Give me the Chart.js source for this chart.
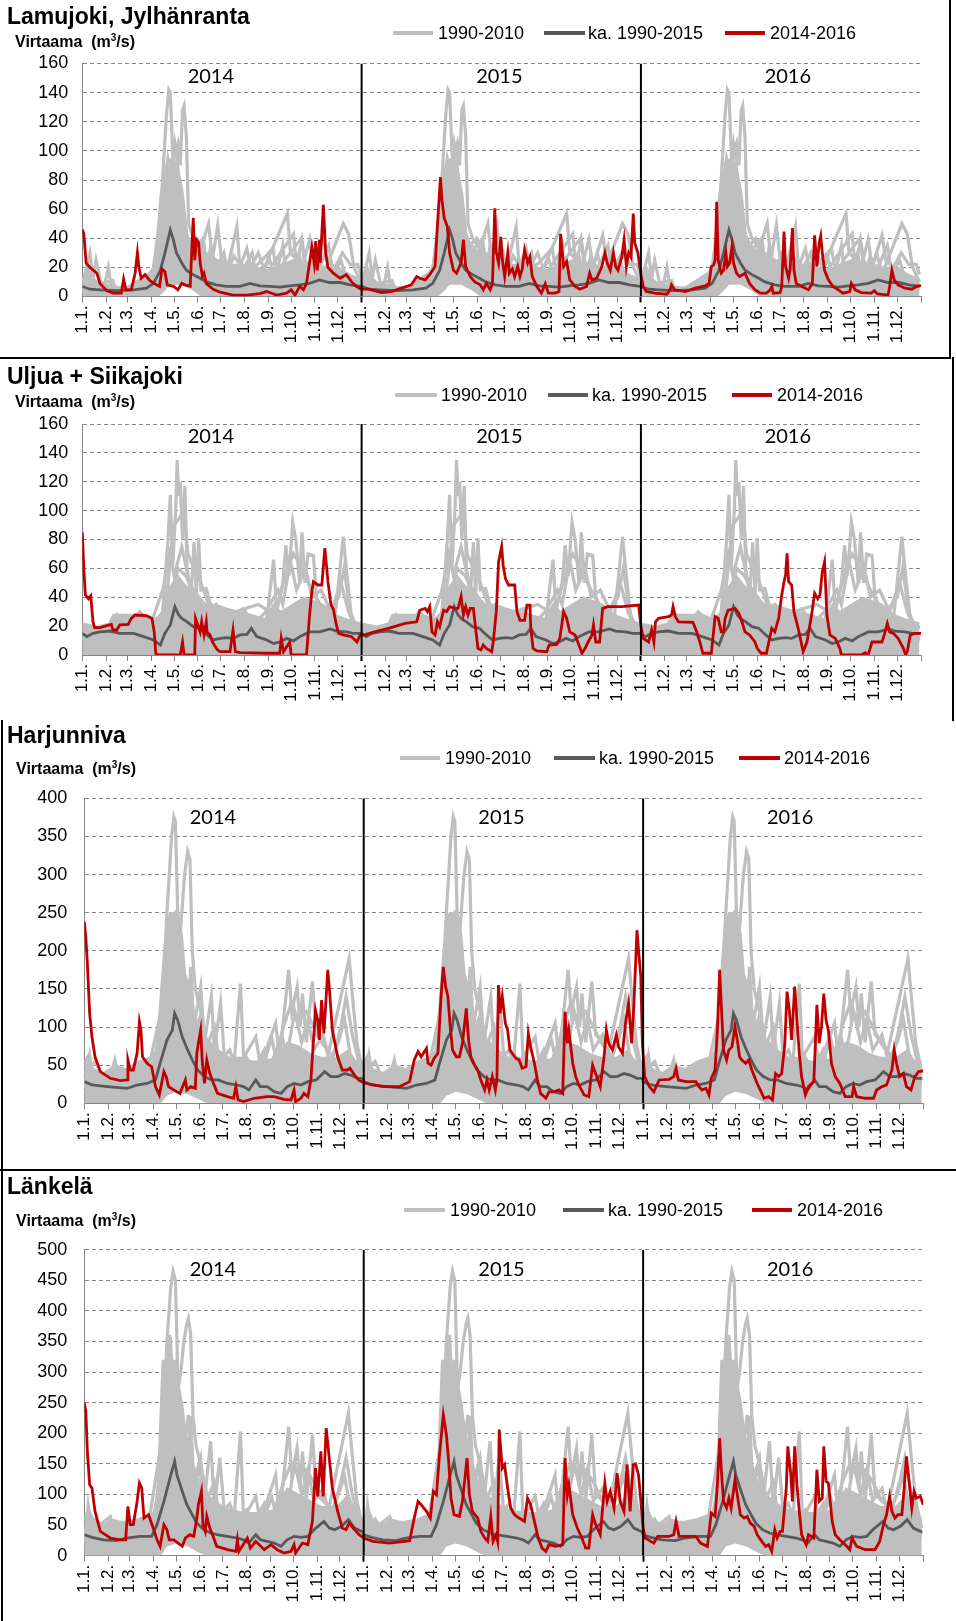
<!DOCTYPE html>
<html>
<head>
<meta charset="utf-8">
<script src="https://cdn.jsdelivr.net/npm/chart.js@4.4.0/dist/chart.umd.min.js"></script>
<style>
  body { margin: 0; background: #fff; width: 956px; height: 1621px; position: relative; overflow: hidden;
         font-family: "Liberation Sans", Arial, sans-serif; }
  canvas { position: absolute; left: 0; }
  .title { position: absolute; left: 7px; font-weight: bold; font-size: 23px; line-height: 23px; color: #000; white-space: nowrap; z-index: 2; }
  .unit { position: absolute; font-weight: bold; font-size: 16px; line-height: 16px; color: #000; white-space: nowrap; z-index: 2; }
  .unit sup { font-size: 10px; line-height: 0; }
  .rule { position: absolute; background: #000; z-index: 3; }
</style>
</head>
<body>
<canvas id="c1" width="956" height="359" style="top:0px"></canvas>
<canvas id="c2" width="956" height="361" style="top:359px"></canvas>
<canvas id="c3" width="956" height="450" style="top:720px"></canvas>
<canvas id="c4" width="956" height="451" style="top:1170px"></canvas>

<div class="title" style="top:5px">Lamujoki, Jylhänranta</div>
<div class="unit" style="left:15px;top:34px">Virtaama&nbsp; (m<sup>3</sup>/s)</div>
<div class="title" style="top:365px">Uljua + Siikajoki</div>
<div class="unit" style="left:15px;top:394px">Virtaama&nbsp; (m<sup>3</sup>/s)</div>
<div class="title" style="top:724px">Harjunniva</div>
<div class="unit" style="left:16px;top:761px">Virtaama&nbsp; (m<sup>3</sup>/s)</div>
<div class="title" style="top:1175px">Länkelä</div>
<div class="unit" style="left:16px;top:1213px">Virtaama&nbsp; (m<sup>3</sup>/s)</div>

<div class="rule" style="left:0;top:357px;width:951px;height:2px"></div>
<div class="rule" style="left:949px;top:0;width:2px;height:359px"></div>
<div class="rule" style="left:952px;top:357px;width:2px;height:364px"></div>
<div class="rule" style="left:1px;top:720px;width:2px;height:901px"></div>
<div class="rule" style="left:0;top:1169px;width:956px;height:2px"></div>

<script>
// days counted from 1.1.2014
const tickDays = [0,31,59,90,120,151,181,212,243,273,304,334,
                  365,396,424,455,485,516,546,577,608,638,669,699,
                  730,761,790,821,851,882,912,943,974,1004,1035,1065,1096];
const monthNames = ['1.1.','1.2.','1.3.','1.4.','1.5.','1.6.','1.7.','1.8.','1.9.','1.10.','1.11.','1.12.'];
const tickLabels = [...monthNames, ...monthNames, ...monthNames, ''];
const yearDays = [365, 730];
const yearLabels = ['2014', '2015', '2016'];
const yearLabelDays = [168, 545, 922];
const yearOffsets = [0, 365, 730];
const legendTexts = ['1990-2010', 'ka. 1990-2015', '2014-2016'];

// ---- Lamujoki, Jylhänranta ----
const lamuRed = [[0,46],[2,43],[5,23],[10,20],[19,16],[23,9],[32,4],[40,2.3],[51,2.3],[54,12],[57,4.6],[64,4.6],[69,16],[72,30],[74,20],[77,12.5],[82,15],[88,11],[97,8],[101,7],[104,19],[108,17],[111,8],[119,7],[125,4.6],[130,9],[134,8],[141,7],[145,54],[147,25],[149,39],[152,37],[154,23],[157,14],[159,16],[162,9],[171,5],[180,3],[197,1],[215,1],[232,2],[241,3.4],[254,1],[267,2.3],[273,4.6],[278,1],[284,7],[289,4.6],[293,9],[300,34],[303,23],[305,38],[307,18],[310,39],[311,23],[315,63],[318,30],[321,20],[328,16],[337,12.5],[345,15],[352,10],[358,7],[364,5],
  [374,5],[391,2.7],[404,3.4],[417,5.7],[430,8],[437,13.7],[441,12.5],[448,11.4],[454,15],[461,20.6],[464,48],[468,82],[470,66],[473,54],[477,48],[480,30],[485,18],[489,16],[495,23],[498,39],[501,20.6],[507,13.7],[513,10],[520,8],[524,4.6],[528,9],[533,4.6],[536,9],[539,60.6],[541,30],[544,23],[547,41],[549,25],[552,13.7],[556,30],[558,16],[562,19],[565,13.7],[569,20.6],[572,13.7],[575,19],[578,32],[582,23],[585,27],[588,13.7],[594,6.9],[600,2.3],[605,8.7],[609,2.3],[618,2.3],[623,3.4],[625,43],[629,20.6],[633,24],[637,11.4],[644,6.9],[650,5],[659,6.9],[663,16],[666,11.4],[672,12.5],[679,20.6],[683,30],[686,23],[690,18],[694,30],[697,20.6],[700,18],[705,27],[708,39],[711,20.6],[714,30],[717,27],[720,57],[722,36.6],[726,30],[730,15],
  [733,6.9],[737,3.4],[748,2.3],[764,1.6],[768,4.6],[770,8],[774,4.6],[788,3.4],[801,5.7],[814,7.3],[819,9],[822,20.6],[825,21.7],[827,25],[829,65],[831,25],[835,16],[838,18],[841,30],[843,20.6],[846,23],[849,34],[851,23],[855,16],[859,13.7],[866,16],[872,9],[879,4.6],[886,2.3],[894,2.3],[899,4.6],[901,6.9],[903,2.3],[912,2.7],[914,6.9],[917,44.6],[919,20.6],[923,12.5],[925,19],[928,47],[930,18],[933,9],[940,6.9],[949,4.6],[954,9],[957,42],[960,20.6],[963,36.6],[965,41.6],[967,30],[970,18],[975,11.4],[981,6.9],[988,4.6],[994,2.3],[1003,3.4],[1005,9],[1010,4.6],[1018,2.7],[1031,2.3],[1035,4],[1039,1.8],[1053,1],[1055,6.9],[1058,18],[1061,11.4],[1066,8],[1075,5.7],[1084,5],[1090,6.9],[1096,7.5]];
const lamuAvg = [[0,6.9],[10,5],[23,4.6],[45,4],[67,4.6],[84,5.7],[93,9],[102,18],[108,30],[115,45.7],[119,39],[123,30],[130,23],[136,18],[145,15],[154,12.5],[162,10],[175,8],[188,6.9],[206,6.9],[219,9],[232,7.3],[245,6.9],[258,6.4],[271,7.3],[284,8],[297,9],[310,11.4],[323,9.6],[337,9.6],[350,8],[364,6.9]];
const lamuGrayHigh = [[0,12],[8,20],[12,14],[20,10],[35,8],[50,6],[65,7],[80,10],[92,20],[98,45],[102,70],[106,78],[110,92],[118,95],[125,90],[132,70],[138,40],[145,35],[155,30],[170,25],[185,22],[200,22],[215,22],[230,20],[245,18],[260,22],[275,25],[290,24],[305,22],[320,20],[335,20],[350,15],[364,12]];
const lamuGrayLow = [[0,0],[100,0],[108,4],[115,8],[130,8],[145,4],[155,0],[364,0]];
const lamuGray1 = [[0,5],[20,4],[60,3],[90,10],[100,40],[106,90],[110,125],[113,142],[115,140],[118,100],[122,60],[130,30],[145,20],[165,15],[200,8],[250,6],[300,10],[364,5]];
const lamuGray2 = [[0,8],[10,30],[14,12],[18,25],[25,8],[60,5],[95,15],[110,60],[120,95],[125,105],[128,90],[131,128],[133,131],[136,110],[139,50],[145,40],[152,35],[160,25],[175,15],[200,12],[230,10],[268,57],[272,30],[290,20],[320,15],[364,8]];
const lamuGray3 = [[0,6],[40,11],[44,4],[90,8],[104,55],[112,95],[117,85],[121,105],[124,95],[130,45],[140,30],[150,25],[165,50],[170,25],[177,49],[182,25],[190,20],[202,48],[206,20],[215,33],[220,20],[230,30],[240,15],[276,43],[280,20],[287,39],[292,22],[300,15],[308,30],[315,15],[341,50],[348,43],[355,20],[364,10]];
const lamuGray4 = [[0,4],[50,3],[100,20],[105,40],[112,80],[120,70],[128,60],[135,45],[142,35],[150,40],[160,30],[175,25],[195,20],[215,15],[235,25],[249,33],[255,15],[265,25],[286,40],[290,25],[297,39],[302,20],[315,42],[320,25],[330,20],[340,30],[350,22],[360,22],[364,15]];
const lamuGray5 = [[0,3],[30,10],[34,20],[38,6],[80,5],[100,10],[108,35],[116,75],[124,60],[134,40],[142,30],[158,40],[163,20],[168,35],[174,18],[185,30],[190,15],[198,28],[210,18],[222,30],[228,12],[245,25],[252,12],[262,35],[266,15],[283,30],[290,12],[300,28],[306,15],[322,35],[328,15],[338,25],[345,12],[364,6]];

// ---- Uljua + Siikajoki ----
const uljuaRed = [[0,85],[2,60],[4,41.6],[8,39],[11,41],[14,23],[16,19],[23,19],[32,20.3],[38,21.2],[40,17.3],[45,17.3],[49,20.8],[60,21.2],[64,25.4],[69,27.7],[84,27.2],[91,25.4],[94,16],[96,1.2],[99,0],[128,0],[131,9],[133,0],[147,0],[148,25.4],[151,20.8],[154,16],[156,23],[159,13.9],[162,23],[163,16],[167,13.9],[170,9],[176,4],[180,2.3],[193,2.3],[197,17.3],[200,2.3],[206,1.6],[241,1.2],[258,1.2],[260,11.5],[263,2.3],[271,9],[273,0],[293,0],[297,27.7],[300,44],[302,50.8],[308,48.5],[313,48.5],[317,74],[321,50.8],[325,34.6],[328,32],[332,20.8],[335,15],[341,13.9],[352,12.7],[359,9],[363,13.9],
  [369,13.9],[382,16],[400,18.5],[422,21.9],[437,23],[441,31],[448,32.3],[451,30],[454,33.5],[457,16],[461,13.9],[464,23],[467,19.6],[472,31],[476,30],[480,33.5],[487,32.3],[491,32.3],[495,40.4],[498,27.7],[501,33.5],[504,27.7],[507,32.3],[511,32.3],[514,18.5],[517,4.6],[521,3.5],[524,6.9],[528,4.6],[535,2.3],[537,9],[541,30],[544,64.6],[548,75],[550,62],[553,53],[557,48.5],[565,48.5],[568,30],[572,24],[578,24],[581,34.6],[585,34.6],[586,19.6],[589,4.6],[594,2.8],[607,2.3],[610,6.9],[620,7.4],[624,11.5],[629,30],[633,25.4],[637,16],[644,13.9],[649,6.9],[653,1.2],[657,4.6],[661,9],[666,13.9],[668,20.8],[671,9],[676,9],[680,32.3],[687,33.5],[705,33.5],[727,34.6],[730,20],
  [733,11.5],[740,9],[744,17.3],[747,9],[749,23],[753,25.4],[766,26.6],[770,27.7],[772,33.5],[775,26.6],[779,23],[798,22.6],[803,16],[807,9],[811,1.2],[822,1.2],[827,26.6],[831,25.4],[835,16],[838,16],[840,25.4],[844,31],[853,32.3],[858,28.9],[862,23],[866,16],[872,13.9],[879,9],[882,4.6],[887,1.2],[894,1.2],[901,18.5],[905,16],[910,25.4],[914,41.6],[917,50.8],[919,55.4],[921,70.4],[923,50.8],[927,48.5],[930,30],[936,17.3],[942,2.3],[947,9],[953,27.7],[957,42.7],[961,39],[964,41.6],[967,57.7],[970,64.6],[973,27.7],[977,13.9],[984,11.5],[990,4.6],[992,0],[1018,0],[1023,1.6],[1027,0],[1032,9],[1045,9],[1048,13.9],[1052,21.9],[1055,16],[1060,15],[1066,11.5],[1073,4.6],[1076,0],[1078,2.3],[1082,13.9],[1088,15],[1096,15]];
const uljuaAvg = [[0,15],[6,12.7],[14,15],[23,16],[36,16.6],[49,15],[67,15],[80,12.7],[93,10.4],[102,6.9],[108,15],[115,20.8],[121,33.5],[126,27.7],[130,25.4],[137,23],[145,19.6],[154,18.5],[163,13.9],[171,10.4],[180,11.5],[189,12],[197,11.5],[206,13.9],[215,14.3],[221,18.5],[228,12.7],[241,10.4],[250,8],[258,9],[267,11.5],[276,9.7],[284,12.7],[297,16],[310,16],[324,18],[332,16.6],[345,16],[354,15],[364,15]];
const uljuaGrayHigh = [[0,22],[20,20],[35,22],[40,28],[60,28],[80,28],[95,25],[105,30],[112,45],[118,50],[125,55],[132,50],[140,45],[150,40],[160,35],[175,35],[190,32],[205,30],[220,28],[240,25],[250,35],[260,30],[275,35],[290,40],[300,38],[315,35],[330,28],[345,25],[364,22]];
const uljuaGrayLow = [[0,0],[364,0]];
const uljuaGray1 = [[0,15],[90,15],[105,30],[112,80],[115,111],[118,60],[122,100],[124,135],[126,110],[128,120],[131,80],[134,117],[137,60],[142,40],[146,78],[149,40],[152,81],[155,45],[162,46],[170,30],[200,20],[250,15],[364,15]];
const uljuaGray2 = [[0,18],[50,20],[100,20],[110,40],[120,90],[127,95],[133,100],[138,70],[146,60],[155,50],[165,35],[180,30],[210,25],[240,20],[250,66],[254,30],[262,50],[266,76],[270,55],[275,92],[279,80],[284,50],[287,85],[291,50],[295,70],[302,69],[306,40],[315,30],[330,25],[341,82],[345,60],[352,25],[364,18]];
const uljuaGray3 = [[0,12],[60,15],[110,25],[125,60],[135,55],[145,45],[160,35],[200,30],[230,35],[245,30],[258,40],[268,60],[276,70],[282,65],[290,55],[300,45],[310,35],[320,30],[335,40],[342,60],[350,30],[364,12]];
const uljuaGray4 = [[0,10],[30,15],[45,28],[60,20],[75,30],[90,22],[105,45],[114,70],[120,55],[130,75],[140,50],[150,40],[165,30],[175,35],[190,25],[210,32],[225,22],[240,30],[256,45],[262,35],[272,65],[280,45],[292,60],[300,40],[312,45],[325,30],[338,50],[348,30],[364,10]];

// ---- Harjunniva ----
const harjuRed = [[0,238],[2,218],[4,184],[7,118],[10,87],[14,61],[21,41.5],[34,32.8],[47,29.7],[56,30.6],[57,56.8],[60,43.7],[64,43.7],[69,65.6],[72,107],[74,96],[76,61],[82,52.5],[88,48],[93,21.9],[98,10.9],[104,41.5],[107,35],[110,21.9],[117,17.5],[125,13],[132,30.6],[134,17.5],[139,21.9],[145,19.7],[147,65.6],[149,78.7],[152,96],[154,56.8],[157,26],[160,56.8],[164,39],[167,30.6],[174,13],[187,8.7],[195,6.6],[198,21.9],[201,4.4],[208,2.2],[222,6.6],[239,8.7],[248,8.7],[261,5.2],[270,4.4],[274,17.5],[276,2.2],[283,6.6],[287,13],[292,8.7],[296,30.6],[302,122],[305,109],[307,83],[310,135.5],[313,91.8],[316,140],[318,175],[320,153],[324,96],[331,61],[337,43.7],[344,43.7],[347,46],[353,37],[359,30],[365,27],
  [373,25],[390,21.9],[412,21.9],[425,28.4],[431,56.8],[436,67.8],[440,61],[447,72],[449,52.5],[453,50],[457,59],[462,65.6],[466,140],[469,179],[472,153],[475,140],[478,100.5],[481,70],[486,61],[490,61],[494,78.7],[499,124.6],[502,83],[505,61],[510,50],[514,43.7],[518,30.6],[523,17.5],[526,30.6],[529,17.5],[533,35],[537,17.5],[539,30.6],[541,155],[543,118],[546,140],[550,105],[553,96],[556,70],[559,65.6],[564,59],[568,56.8],[572,46],[577,48],[580,91.8],[583,74],[588,52.5],[592,30.6],[596,13],[603,6.6],[607,15],[614,15],[620,17.5],[625,13],[628,120],[631,78.7],[633,96],[638,52.5],[642,35],[646,24],[653,10.9],[659,8.7],[664,50],[668,39],[674,21.9],[679,61],[682,96],[685,78.7],[690,70],[695,89.6],[698,74],[703,65.6],[707,105],[711,131],[715,78.7],[718,131],[722,227],[724,201],[727,166],[729,79],[732,35],
  [738,21.9],[744,15],[747,21.9],[751,30.6],[764,31.5],[770,35],[773,46],[776,30.6],[786,28.4],[799,28.4],[803,21.9],[807,17.5],[812,19.7],[816,10.9],[819,32.8],[824,43.7],[827,96],[830,175],[832,131],[835,70],[839,56.8],[842,70],[846,74],[850,100.5],[853,83],[856,61],[859,56.8],[864,52.5],[868,56.8],[872,43.7],[879,26],[883,17.5],[888,6.6],[894,8.7],[899,4.4],[903,39],[907,35],[911,39],[915,76.5],[918,146.5],[921,122],[924,83],[928,153],[931,109],[934,65.6],[937,35],[942,10.9],[946,21.9],[953,28.4],[957,129],[960,78.7],[963,100.5],[966,144],[969,109],[972,96],[976,52.5],[981,35],[987,26],[994,8.7],[1003,8.7],[1005,21.9],[1009,8.7],[1020,6.6],[1031,6.6],[1035,17.5],[1042,21.9],[1048,24],[1055,43.7],[1058,70],[1061,52.5],[1065,35],[1070,39],[1074,21.9],[1080,17.5],[1085,35],[1090,41.5],[1096,42.4]];
const harjuAvg = [[0,28.4],[10,24],[30,21.9],[56,19.7],[69,24],[82,26],[93,30.6],[99,52.5],[108,83],[115,96],[118,118],[122,109],[128,87],[135,70],[141,56.8],[148,43.7],[157,35],[166,30.6],[175,30.6],[187,26],[200,24],[208,21.9],[215,17.5],[224,30.6],[230,21.9],[239,21.9],[248,15.3],[257,13],[265,21.9],[274,26],[283,24],[292,28.4],[303,30.6],[314,41.5],[322,35],[331,35],[340,39],[348,37],[357,32.8],[364,32.8]];
const harjuGrayHigh = [[0,55],[5,64],[12,45],[25,40],[40,50],[55,45],[70,55],[85,60],[95,70],[100,150],[104,200],[108,240],[112,250],[117,250],[122,255],[128,220],[132,170],[138,150],[145,110],[155,90],[165,80],[175,70],[190,60],[205,60],[220,55],[235,55],[250,60],[265,80],[280,75],[295,65],[310,60],[330,60],[345,70],[355,55],[364,55]];
const harjuGrayLow = [[0,0],[100,0],[108,10],[120,15],[135,12],[150,5],[160,0],[364,0]];
const harjuGray1 = [[0,25],[40,20],[90,30],[100,100],[108,250],[114,350],[117,376],[119,370],[122,250],[126,140],[132,90],[140,70],[160,45],[200,30],[250,25],[300,40],[364,25]];
const harjuGray2 = [[0,30],[20,40],[60,30],[95,40],[110,120],[120,180],[126,230],[131,300],[135,330],[138,320],[141,200],[145,150],[152,120],[160,80],[175,60],[200,45],[230,40],[270,50],[320,45],[364,30]];
const harjuGray3 = [[0,20],[7,63],[12,30],[35,40],[40,57],[45,30],[90,25],[105,180],[112,230],[117,200],[121,254],[125,150],[135,100],[139,179],[143,100],[152,153],[157,80],[166,140],[170,70],[178,131],[183,60],[195,45],[204,157],[208,60],[224,87],[230,50],[250,105],[255,60],[267,175],[271,120],[278,153],[282,100],[285,144],[290,80],[298,160],[303,90],[320,70],[346,190],[350,144],[356,80],[364,40]];
const harjuGray4 = [[0,15],[50,15],[100,60],[110,150],[118,200],[125,180],[130,130],[140,100],[150,80],[165,60],[185,50],[210,45],[230,40],[245,85],[250,60],[260,100],[270,130],[280,110],[290,120],[300,100],[310,80],[325,60],[335,100],[342,140],[350,90],[364,30]];
const harjuGray5 = [[0,40],[15,55],[25,30],[50,45],[70,35],[85,50],[100,120],[107,200],[113,160],[118,215],[124,180],[130,120],[136,150],[142,90],[150,110],[158,70],[170,100],[176,55],[190,70],[198,45],[212,60],[220,40],[235,70],[242,45],[258,90],[264,60],[275,120],[284,80],[292,110],[300,70],[312,90],[320,55],[332,80],[340,110],[348,60],[364,40]];

// ---- Länkelä ----
const lankeRed = [[0,250],[2,236],[4,170],[7,116],[10,110.6],[14,72.4],[21,39.8],[34,28.9],[47,26],[54,26],[57,80.6],[60,50.7],[64,50.7],[69,88.8],[72,118.7],[75,110.6],[78,61.5],[84,67],[90,45.2],[95,26],[99,15.3],[104,50.7],[108,42.5],[111,26],[117,26],[128,15.3],[132,28.9],[138,34.3],[143,31.6],[147,61.5],[149,83.3],[153,105],[155,50.7],[158,39.8],[160,64.3],[164,45.2],[169,28.9],[173,15.3],[187,9.8],[198,7.1],[200,26],[202,7.1],[213,28.9],[217,12.5],[224,23.4],[235,9.8],[244,18],[252,9.8],[261,4.4],[270,7.1],[274,18],[276,4.4],[285,20.7],[292,18],[298,56.1],[302,143],[305,97],[309,170.5],[312,97],[316,208.6],[320,159.6],[324,110.6],[331,72.4],[337,45.2],[342,42.5],[346,53.4],[353,42.5],[359,34.3],[365,28.9],
  [377,23.4],[399,20.7],[425,24.5],[431,61.5],[436,88.8],[440,83.3],[447,72.4],[452,61.5],[456,105],[460,99.7],[464,165],[469,230],[473,197.7],[476,154],[479,94],[483,67],[490,64.3],[494,88.8],[500,159.6],[503,99.7],[507,72.4],[514,61.5],[518,39.8],[523,28.9],[527,23.4],[531,64.3],[534,23.4],[538,34.3],[540,23.4],[542,206],[546,143],[549,148.7],[553,110.6],[557,78],[562,67],[568,61.5],[575,56.1],[579,94],[583,83.3],[588,56.1],[593,28.9],[598,12.5],[603,7.1],[607,18],[616,15.3],[625,18],[628,159.6],[631,99.7],[633,116],[638,67],[644,45.2],[650,28.9],[655,12.5],[659,12.5],[664,67],[668,50.7],[674,34.3],[680,118.7],[683,88.8],[687,105],[692,78],[696,135],[700,88.8],[705,72.4],[709,148.7],[713,72.4],[717,148.7],[720,150],[724,132],[727,89],[730,45],[733,28.9],
  [740,23.4],[744,20.7],[749,31.6],[764,31.6],[770,34.3],[773,56.1],[777,31.6],[799,31.6],[805,20.7],[814,15.3],[819,69.7],[824,64.3],[827,116],[830,192],[832,143],[835,88.8],[839,78],[842,94],[845,78],[850,124],[853,99.7],[857,67],[862,61.5],[866,64.3],[870,53.4],[875,48],[879,34.3],[885,23.4],[890,15.3],[894,18],[898,7.1],[902,42.5],[905,28.9],[909,39.8],[912,39.8],[917,110.6],[919,178.7],[923,132],[925,88.8],[928,178.7],[931,116],[934,72.4],[937,34.3],[943,18],[946,34.3],[953,28.9],[957,140.5],[960,88.8],[964,94],[966,178.7],[969,121.5],[972,118.7],[977,56.1],[981,34.3],[987,26],[996,15.3],[1000,9.8],[1003,28.9],[1009,15.3],[1020,9.8],[1033,9.8],[1039,23.4],[1044,50.7],[1048,67],[1052,97],[1055,72.4],[1059,61.5],[1063,67],[1068,67],[1071,110.6],[1074,162.3],[1077,127],[1081,78],[1084,105],[1087,94],[1092,97],[1096,83.3]];
const lankeAvg = [[0,34.3],[10,30],[25,26],[42,24.5],[55,28.9],[73,31.6],[88,31.6],[95,50.7],[104,88.8],[112,127],[118,154],[121,132],[128,105],[134,83.3],[141,67],[147,53.4],[156,42.5],[165,37],[173,34.3],[187,31.6],[200,28.9],[208,26],[215,20.7],[224,34.3],[230,26],[239,23.4],[248,20.7],[257,15.3],[265,26],[274,31.6],[283,30],[292,31.6],[300,42.5],[313,56.1],[320,45.2],[327,42.5],[336,48],[345,58.8],[353,45.2],[364,38.7]];
const lankeGrayHigh = [[0,60],[5,80],[12,60],[25,50],[35,60],[50,55],[70,60],[90,70],[98,120],[103,250],[108,300],[112,330],[117,300],[122,290],[128,250],[133,200],[140,160],[150,120],[160,100],[175,85],[190,75],[210,70],[230,70],[250,75],[265,110],[280,100],[295,90],[310,80],[330,80],[345,100],[355,70],[364,60]];
const lankeGrayLow = [[0,0],[100,0],[108,15],[120,20],[135,15],[150,5],[160,0],[364,0]];
const lankeGray1 = [[0,30],[40,25],[90,40],[100,150],[108,350],[113,440],[116,465],[119,450],[122,300],[126,180],[132,110],[140,80],[160,55],[200,35],[250,30],[300,50],[364,30]];
const lankeGray2 = [[0,35],[20,50],[60,40],[95,50],[103,320],[106,200],[112,300],[120,250],[126,300],[130,350],[134,380],[136,388],[139,360],[142,228],[146,180],[152,150],[160,100],[175,75],[200,55],[230,50],[270,60],[320,55],[364,35]];
const lankeGray3 = [[0,20],[5,83],[10,40],[34,64],[40,35],[90,30],[105,220],[112,361],[117,250],[121,236],[125,180],[135,120],[139,228],[143,120],[152,160],[157,90],[165,187],[170,80],[177,160],[183,70],[195,50],[204,203],[208,60],[224,97],[230,55],[250,132],[255,60],[267,211],[271,130],[278,176],[282,110],[285,170],[290,90],[298,198],[303,100],[320,80],[345,233],[350,165],[356,90],[364,45]];
const lankeGray4 = [[0,15],[50,15],[100,80],[110,200],[118,260],[125,230],[130,170],[140,130],[150,100],[165,75],[185,60],[210,55],[230,50],[245,95],[250,70],[260,120],[270,150],[280,130],[290,140],[300,120],[310,95],[325,75],[335,120],[342,160],[350,100],[364,35]];
const lankeGray5 = [[0,40],[15,60],[25,35],[50,55],[70,40],[85,60],[100,180],[107,300],[113,230],[118,320],[124,260],[130,170],[136,230],[142,120],[150,140],[158,85],[170,120],[176,65],[190,85],[198,55],[212,75],[220,50],[235,85],[242,55],[258,110],[264,70],[275,150],[284,100],[292,140],[300,90],[312,110],[320,65],[332,100],[340,130],[348,75],[364,45]];

const RED = '#C00000', DARK = '#595959', LIGHT = '#BFBFBF', AXIS = '#868686';
const FONT = '"Liberation Sans", Arial, sans-serif';
const Y_W = 70, X_H = 60;

const toXY = arr => arr.map(([d, v]) => ({x: d, y: v}));
const eachYear = arr => yearOffsets.flatMap(off => arr.map(([d, v]) => ({x: d + off, y: v})));

const decor = {
  id: 'decor',
  afterDraw(chart, args, o) {
    const ctx = chart.ctx, xs = chart.scales.x;
    ctx.save();
    ctx.fillStyle = '#000';
    ctx.font = '20px Lato';
    ctx.textAlign = 'center';
    ctx.textBaseline = 'middle';
    yearLabels.forEach((t, i) => ctx.fillText(t, xs.getPixelForValue(yearLabelDays[i]), o.yearY));
    ctx.font = '18px ' + FONT;
    ctx.textAlign = 'left';
    const cols = [LIGHT, DARK, RED];
    o.legend.forEach((it, i) => {
      ctx.strokeStyle = cols[i];
      ctx.lineWidth = 4;
      ctx.beginPath();
      ctx.moveTo(it[0], o.legendY);
      ctx.lineTo(it[1], o.legendY);
      ctx.stroke();
      ctx.fillText(legendTexts[i], it[2], o.legendY + 1);
    });
    ctx.restore();
  }
};

function makePanel(id, p) {
  const canvas = document.getElementById(id);
  const W = canvas.width, H = canvas.height;
  const ds = [];
  yearDays.forEach(d => ds.push({data: [{x: d, y: 0}, {x: d, y: p.yMax}], borderColor: '#000', borderWidth: 2}));
  ds.push({data: toXY(p.red), borderColor: RED, borderWidth: 2.8});
  ds.push({data: eachYear(p.avg), borderColor: DARK, borderWidth: 2.8});
  p.grays.forEach(g => ds.push({data: eachYear(g), borderColor: LIGHT, borderWidth: 3.2}));
  ds.push({data: eachYear(p.high), borderColor: LIGHT, borderWidth: 1.5, backgroundColor: LIGHT, fill: '+1'});
  ds.push({data: eachYear(p.low), borderColor: LIGHT, borderWidth: 0});

  new Chart(canvas, {
    type: 'line',
    data: {datasets: ds},
    options: {
      responsive: false,
      animation: false,
      events: [],
      layout: {padding: {left: p.left - Y_W, right: W - p.right, top: p.top, bottom: H - p.bottom - X_H}},
      elements: {point: {radius: 0}, line: {tension: 0}},
      plugins: {
        legend: {display: false},
        tooltip: {enabled: false},
        decor: {yearY: p.yearY, legendY: p.legendY, legend: p.legend}
      },
      scales: {
        x: {
          type: 'linear', min: 0, max: 1096,
          afterBuildTicks: s => { s.ticks = tickDays.map(v => ({value: v})); },
          afterFit: s => { s.height = X_H; s.paddingLeft = 0; s.paddingRight = 0; },
          ticks: {autoSkip: false, minRotation: 90, maxRotation: 90, padding: 3, color: '#000',
                  font: {family: FONT, size: 17}, callback: (v, i) => tickLabels[i]},
          grid: {display: true, drawOnChartArea: false, drawTicks: true, tickLength: 6,
                 tickColor: c => yearDays.includes(c.tick && c.tick.value) ? '#000' : AXIS,
                 tickWidth: c => yearDays.includes(c.tick && c.tick.value) ? 2 : 1},
          border: {display: true, color: AXIS, width: 1}
        },
        y: {
          min: 0, max: p.yMax,
          afterFit: s => { s.width = Y_W; s.paddingTop = 0; s.paddingBottom = 0; },
          ticks: {stepSize: p.yStep, padding: p.yPad, color: '#000', font: {family: FONT, size: 18}},
          grid: {drawTicks: false, color: AXIS, lineWidth: 1},
          border: {display: true, color: AXIS, width: 1, dash: [4, 3]}
        }
      }
    },
    plugins: [decor]
  });
}

makePanel('c1', {red: lamuRed, avg: lamuAvg, high: lamuGrayHigh, low: lamuGrayLow,
  grays: [lamuGray1, lamuGray2, lamuGray3, lamuGray4, lamuGray5], yMax: 160, yStep: 20, yPad: 14,
  left: 82.3, right: 921, top: 63.5, bottom: 296.5, yearY: 77, legendY: 33,
  legend: [[393, 433, 438], [544, 585, 588], [725, 765, 770]]});
makePanel('c2', {red: uljuaRed, avg: uljuaAvg, high: uljuaGrayHigh, low: uljuaGrayLow,
  grays: [uljuaGray1, uljuaGray2, uljuaGray3, uljuaGray4], yMax: 160, yStep: 20, yPad: 14,
  left: 82.3, right: 921, top: 65, bottom: 296, yearY: 78, legendY: 36,
  legend: [[395, 437, 441], [548, 588, 592], [732, 772, 777]]});
makePanel('c3', {red: harjuRed, avg: harjuAvg, high: harjuGrayHigh, low: harjuGrayLow,
  grays: [harjuGray1, harjuGray2, harjuGray3, harjuGray4, harjuGray5], yMax: 400, yStep: 50, yPad: 17,
  left: 84.3, right: 923.3, top: 78.3, bottom: 383.3, yearY: 98, legendY: 38,
  legend: [[400, 440, 445], [554, 595, 599], [739, 780, 784]]});
makePanel('c4', {red: lankeRed, avg: lankeAvg, high: lankeGrayHigh, low: lankeGrayLow,
  grays: [lankeGray1, lankeGray2, lankeGray3, lankeGray4, lankeGray5], yMax: 500, yStep: 50, yPad: 17,
  left: 84.3, right: 923.3, top: 79.7, bottom: 385.7, yearY: 100, legendY: 40,
  legend: [[404, 445, 450], [563, 604, 608], [752, 792, 797]]});
</script>
</body>
</html>
